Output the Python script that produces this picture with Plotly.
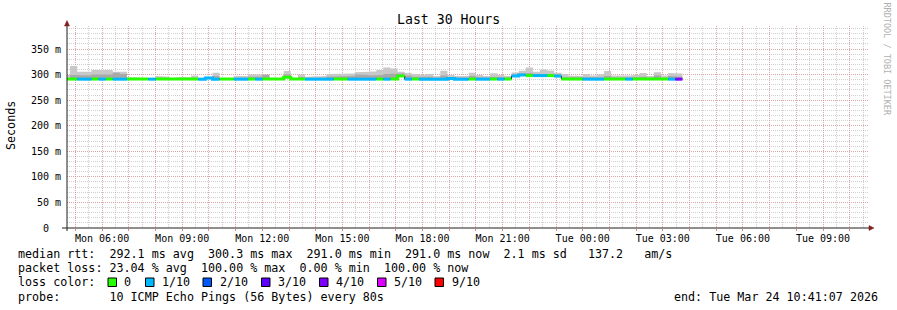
import plotly.graph_objects as go
from datetime import datetime, timedelta

# ---------------- data ----------------
# consolidated 16-minute intervals, first one starts 2026-03-23 04:32
seg_start = datetime(2026, 3, 23, 4, 32, 0)
seg_minutes = 16

median_ms = [291.2, 291.2, 291.0, 291.0, 291.3, 291.0, 291.3, 291.0, 291.0, 291.5,
             291.5, 291.2, 291.0, 291.2, 291.2, 291.2, 291.2, 291.2, 291.2, 291.0,
             293.5, 291.0, 291.3, 291.3, 291.0, 291.0, 291.3, 291.0, 291.3, 291.3,
             291.3, 295.0, 291.3, 291.3, 291.0, 291.0, 291.0, 291.0, 291.3, 291.3,
             291.0, 291.0, 291.0, 291.0, 291.3, 291.0, 291.3, 297.0, 291.0, 291.3,
             291.0, 291.0, 291.0, 291.0, 292.5, 291.0, 291.0, 291.3, 291.0, 291.0,
             291.3, 291.0, 291.3, 297.0, 299.0, 298.0, 298.0, 298.0, 298.0, 297.0,
             291.3, 291.3, 291.3, 291.0, 291.0, 291.0, 291.3, 291.3, 291.3, 291.0,
             291.3, 291.3, 291.3, 291.3, 291.3, 291.0, 291.0]

loss_count = [0, 0, 1, 1, 0, 1, 0, 1, 1, 0,
              0, 0, 1, 0, 0, 0, 0, 0, 0, 1,
              1, 1, 0, 0, 1, 1, 0, 1, 0, 0,
              0, 0, 0, 0, 1, 1, 1, 1, 0, 0,
              1, 1, 1, 1, 0, 1, 0, 0, 1, 0,
              1, 1, 1, 1, 1, 1, 1, 0, 1, 1,
              0, 1, 0, 1, 1, 0, 1, 1, 0, 1,
              0, 0, 0, 1, 1, 1, 0, 0, 0, 1,
              0, 0, 0, 0, 0, 1, 4]

smoke_max = [299.0, 317.0, 305.5, 305.5, 309.0, 309.0, 309.0, 305.5, 305.5, 295.0,
             294.0, 293.5, 294.0, 297.0, 296.0, 293.5, 295.0, 295.0, 298.0, 294.0,
             296.0, 303.5, 293.0, 293.0, 297.0, 297.0, 300.0, 300.0, 300.0, 293.0,
             293.0, 307.0, 293.0, 300.0, 296.0, 296.0, 297.0, 301.0, 302.0, 301.0,
             302.0, 304.5, 305.5, 306.0, 309.0, 314.0, 312.0, 305.5, 303.0, 301.0,
             299.0, 301.0, 297.0, 307.5, 299.0, 297.0, 297.0, 303.5, 299.0, 297.0,
             302.5, 299.0, 297.0, 304.0, 307.5, 314.0, 305.5, 310.0, 308.0, 303.5,
             301.0, 298.0, 297.0, 301.0, 298.0, 300.0, 307.0, 298.0, 297.0, 298.0,
             299.0, 303.0, 297.0, 304.5, 298.0, 303.0, 302.0]

smoke_inner = [293.5, 299.0, 299.0, 298.0, 300.0, 301.0, 300.0, 303.5, 301.0, 293.0,
               293.0, 292.5, 293.0, 294.0, 293.5, 292.5, 293.0, 293.0, 294.0, 293.0,
               295.0, 297.0, 292.5, 292.5, 294.0, 294.0, 296.0, 296.0, 299.5, 292.5,
               292.5, 300.0, 292.5, 295.0, 293.5, 293.5, 294.0, 296.0, 297.0, 296.0,
               297.0, 300.0, 299.0, 298.0, 299.0, 301.0, 301.0, 302.0, 298.0, 296.0,
               295.0, 296.0, 294.0, 298.0, 295.0, 294.0, 294.0, 297.0, 295.0, 294.0,
               296.0, 295.0, 294.0, 300.0, 302.0, 303.0, 301.0, 302.0, 301.0, 300.0,
               295.0, 294.0, 294.0, 295.0, 294.0, 295.0, 297.0, 294.0, 294.0, 294.0,
               295.0, 296.0, 294.0, 298.0, 294.0, 297.0, 296.0]

loss_levels = [0, 1, 2, 3, 4, 5, 9]
loss_labels = ["0", "1/10", "2/10", "3/10", "4/10", "5/10", "9/10"]
loss_colors = ["#26ff00", "#00b8ff", "#0059ff", "#5e00ff", "#7e00ff", "#dd00ff", "#ff0000"]

y_tick_vals = [0, 50, 100, 150, 200, 250, 300, 350]
y_tick_text = ["0\u00a0\u00a0", "50 m", "100 m", "150 m", "200 m", "250 m", "300 m", "350 m"]

t_begin = datetime(2026, 3, 23, 4, 41, 7)
t_end = datetime(2026, 3, 24, 10, 41, 7)

title_text = "Last 30 Hours"
stat_lines = [
    "median rtt:  292.1 ms avg  300.3 ms max  291.0 ms min  291.0 ms now  2.1 ms sd   137.2   am/s",
    "packet loss: 23.04 % avg  100.00 % max  0.00 % min  100.00 % now",
    "loss color:",
    "probe:       10 ICMP Echo Pings (56 Bytes) every 80s",
]
end_text = "end: Tue Mar 24 10:41:07 2026"

# ---------------- geometry ----------------
W, H = 897, 310
L, R, T, B = 67, 29, 26, 82
PW, PH = W - L - R, H - T - B
FONT = "DejaVu Sans Mono"


def px(x):
    return (x - L) / PW


def py(y):
    return (H - B - y) / PH


def nb(s):
    return s.replace(" ", "\u00a0")


n = len(median_ms)
bounds = [seg_start + timedelta(minutes=seg_minutes * k) for k in range(n + 1)]


def step_xy(vals):
    xs, ys = [], []
    for k, v in enumerate(vals):
        xs += [bounds[k], bounds[k + 1]]
        ys += [v, v]
    return xs, ys


smoke_low = [m - 1.0 for m in median_ms]

fig = go.Figure()

# smoke: outer (lightest) and inner (darker)
for top, col in [(smoke_max, "#c8c8c8"), (smoke_inner, "#a8a8a8")]:
    xs, ys = step_xy(smoke_low)
    fig.add_trace(go.Scatter(x=xs, y=ys, mode="lines", line=dict(width=0),
                             hoverinfo="skip", showlegend=False))
    xs, ys = step_xy(top)
    fig.add_trace(go.Scatter(x=xs, y=ys, mode="lines", line=dict(width=0),
                             fill="tonexty", fillcolor=col,
                             hoverinfo="skip", showlegend=False))

# thin black median underneath
xs, ys = step_xy(median_ms)
fig.add_trace(go.Scatter(x=xs, y=ys, mode="lines", line=dict(width=1, color="#000000"),
                         hoverinfo="skip", showlegend=False))

# coloured median per loss level
for lvl, col in zip(loss_levels, loss_colors):
    xs, ys = [], []
    for k in range(n):
        if loss_count[k] != lvl:
            continue
        if xs and xs[-1] != bounds[k]:
            xs.append(None)
            ys.append(None)
        xs.append(bounds[k])
        ys.append(median_ms[k])
        xs.append(bounds[k + 1])
        ys.append(median_ms[k])
    if xs:
        fig.add_trace(go.Scatter(x=xs, y=ys, mode="lines",
                                 line=dict(width=3, color=col),
                                 hoverinfo="skip", showlegend=False))

# ticks
hour_ticks = []
t = datetime(2026, 3, 23, 5, 0, 0)
while t <= t_end:
    hour_ticks.append(t)
    t += timedelta(hours=1)
hour_text = [h.strftime("%a %H:%M") if h.hour % 3 == 0 else "" for h in hour_ticks]

MGRID = "rgba(228,110,110,0.42)"
GRID = "rgba(150,150,150,0.45)"

fig.update_xaxes(
    type="date", range=[t_begin, t_end],
    tickvals=hour_ticks, ticktext=hour_text,
    showgrid=True, gridcolor=MGRID, griddash="1px,1px", gridwidth=1,
    minor=dict(dtick=30 * 60 * 1000, tick0="2026-03-23 04:30:00", showgrid=True,
               gridcolor=GRID, griddash="1px,1px", gridwidth=1, ticks=""),
    ticks="outside", ticklen=2, tickcolor="#e88080", tickwidth=1,
    showline=False, zeroline=False,
    tickfont=dict(family=FONT, size=10, color="#000000"),
    ticklabelstandoff=-1,
)
fig.update_yaxes(
    range=[0, PH / 0.5114], tickvals=y_tick_vals, ticktext=y_tick_text,
    showgrid=True, gridcolor=MGRID, griddash="1px,1px", gridwidth=1,
    minor=dict(dtick=10, tick0=0, showgrid=True, gridcolor=GRID,
               griddash="1px,1px", gridwidth=1, ticks=""),
    ticks="", showline=False, zeroline=False,
    tickfont=dict(family=FONT, size=10, color="#000000"),
    ticklabelstandoff=5,
)

AXIS = "#1f1f1f"
ARROW = "#801f1f"
shapes = [
    dict(type="line", xref="paper", yref="paper", x0=px(62), x1=px(869),
         y0=py(228), y1=py(228), line=dict(color=AXIS, width=1)),
    dict(type="line", xref="paper", yref="paper", x0=px(67), x1=px(67),
         y0=py(231), y1=py(24), line=dict(color=AXIS, width=1)),
    dict(type="path", xref="paper", yref="paper",
         path="M {} {} L {} {} L {} {} Z".format(px(64.5), py(26), px(69.5), py(26), px(67), py(20.5)),
         fillcolor=ARROW, line=dict(color=ARROW, width=0.5)),
    dict(type="path", xref="paper", yref="paper",
         path="M {} {} L {} {} L {} {} Z".format(px(869), py(225.5), px(869), py(230.5), px(874), py(228)),
         fillcolor=ARROW, line=dict(color=ARROW, width=0.5)),
]

annotations = [
    dict(text=title_text, xref="paper", yref="paper", x=px(448), y=py(19.5),
         xanchor="center", yanchor="middle", showarrow=False,
         font=dict(family=FONT, size=13.2, color="#000000")),
    dict(text="Seconds", xref="paper", yref="paper", x=px(11), y=py(126),
         xanchor="center", yanchor="middle", showarrow=False, textangle=-90,
         font=dict(family=FONT, size=11.7, color="#000000")),
    dict(text=nb("RRDTOOL / TOBI OETIKER"), xref="paper", yref="paper", x=px(886.5), y=py(59),
         xanchor="center", yanchor="middle", showarrow=False, textangle=90,
         font=dict(family=FONT, size=8.5, color="#b0b0b0")),
    dict(text=nb(end_text), xref="paper", yref="paper", x=px(880.5), y=py(296.5),
         xanchor="right", yanchor="middle", showarrow=False,
         font=dict(family=FONT, size=11.7, color="#000000")),
]
line_y = [254.3, 268.3, 282.3, 296.5]
for txt, yy in zip(stat_lines, line_y):
    annotations.append(dict(text=nb(txt), xref="paper", yref="paper", x=px(15.5), y=py(yy),
                            xanchor="left", yanchor="middle", showarrow=False,
                            font=dict(family=FONT, size=11.7, color="#000000")))

sq_left = [108, 145.5, 203, 261.5, 319.5, 377.5, 435]
lab_left = [122, 160, 217.5, 275.5, 333.5, 391.5, 449.5]
for sx, lx, lab, col in zip(sq_left, lab_left, loss_labels, loss_colors):
    shapes.append(dict(type="rect", xref="paper", yref="paper",
                       x0=px(sx), x1=px(sx + 8.5), y0=py(286.5), y1=py(278),
                       fillcolor=col, line=dict(color="#000000", width=1)))
    annotations.append(dict(text=nb(lab), xref="paper", yref="paper", x=px(lx), y=py(282.3),
                            xanchor="left", yanchor="middle", showarrow=False,
                            font=dict(family=FONT, size=11.7, color="#000000")))

fig.update_layout(
    width=W, height=H, autosize=False,
    margin=dict(l=L, r=R, t=T, b=B, pad=0),
    paper_bgcolor="#ffffff", plot_bgcolor="#ffffff",
    shapes=shapes, annotations=annotations, showlegend=False,
)

fig.write_html("out.html")
